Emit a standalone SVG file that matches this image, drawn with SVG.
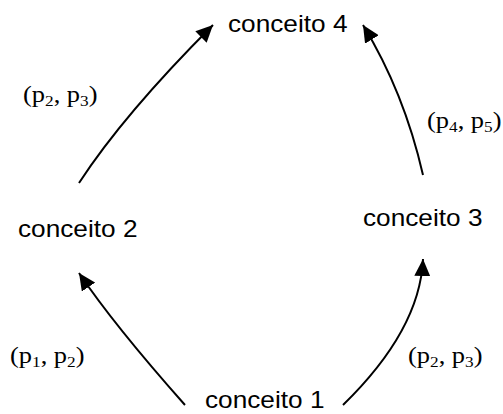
<svg xmlns="http://www.w3.org/2000/svg" width="503" height="414" viewBox="0 0 503 414">
<style>
.node{font-family:"Liberation Sans",Arial,sans-serif;font-size:23px;fill:#000}
.lbl{font-family:"Liberation Serif","Times New Roman",serif;font-size:23px;fill:#000}
.sub{font-size:15px}
.edge{fill:none;stroke:#000;stroke-width:2}
</style>
<defs>
<marker id="ah" markerUnits="userSpaceOnUse" markerWidth="18" markerHeight="16" viewBox="0 0 18 16" refX="17" refY="8" orient="auto">
<path d="M0,0 L17,8 L0,16 Z" fill="#000"/>
</marker>
</defs>
<rect width="503" height="414" fill="#fff"/>
<g id="connectors">
<path class="edge" d="M79,183 Q124,114 213,25" marker-end="url(#ah)"/>
<path class="edge" d="M423,175 Q404,92 363,25" marker-end="url(#ah)"/>
<path class="edge" d="M185,405 Q114,325 79,273" marker-end="url(#ah)"/>
<path class="edge" d="M343,405 Q420,330 423,259" marker-end="url(#ah)"/>
</g>
<g id="conceito4"><text class="node" transform="translate(228,32) scale(1.14,1)">conceito 4</text></g>
<g id="conceito2"><text class="node" transform="translate(18,237) scale(1.14,1)">conceito 2</text></g>
<g id="conceito3"><text class="node" transform="translate(363,226) scale(1.14,1)">conceito 3</text></g>
<g id="conceito1"><text class="node" transform="translate(205,408) scale(1.14,1)">conceito 1</text></g>
<g id="labels">
<text class="lbl" transform="translate(23,102) scale(1.15,1)">(p<tspan class="sub" dy="4">2</tspan><tspan dy="-4">, p</tspan><tspan class="sub" dy="4">3</tspan><tspan dy="-4">)</tspan></text>
<text class="lbl" transform="translate(427,128) scale(1.15,1)">(p<tspan class="sub" dy="4">4</tspan><tspan dy="-4">, p</tspan><tspan class="sub" dy="4">5</tspan><tspan dy="-4">)</tspan></text>
<text class="lbl" transform="translate(10,363) scale(1.15,1)">(p<tspan class="sub" dy="4">1</tspan><tspan dy="-4">, p</tspan><tspan class="sub" dy="4">2</tspan><tspan dy="-4">)</tspan></text>
<text class="lbl" transform="translate(408,363) scale(1.15,1)">(p<tspan class="sub" dy="4">2</tspan><tspan dy="-4">, p</tspan><tspan class="sub" dy="4">3</tspan><tspan dy="-4">)</tspan></text>
</g>
</svg>
